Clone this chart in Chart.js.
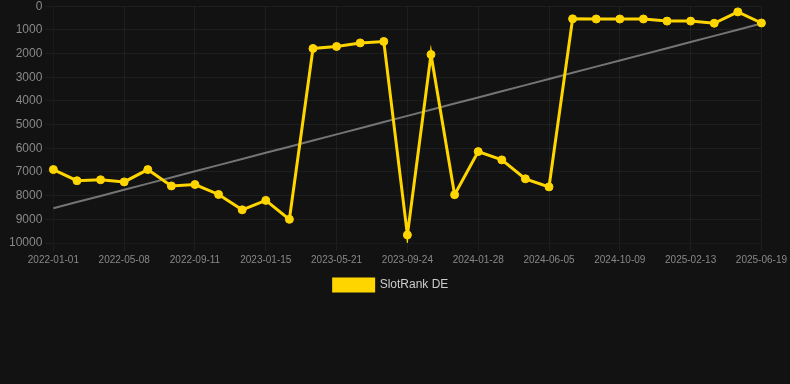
<!DOCTYPE html>
<html lang="en">
<head>
    <meta charset="UTF-8">
    <title>SlotRank DE</title>
    <style>
        body {
            margin: 0;
            background-color: #121212;
            font-family: Arial, "Liberation Sans", sans-serif;
        }
        .chart-wrapper {
            width: 790px;
            height: 305px;
            margin-top: -4px;
        }
    </style>
</head>
<body>
    <div class="chart-wrapper">
        <canvas id="rankChart"></canvas>
    </div>

    <script src="https://cdn.jsdelivr.net/npm/chart.js"></script>
    <script>
        // Dates on the x axis
        const dates = [
            '2022-01-01', '2022-02-12', '2022-03-26', '2022-05-08', '2022-06-19', '2022-07-31',
            '2022-09-11', '2022-10-23', '2022-12-04', '2023-01-15', '2023-02-26', '2023-04-09',
            '2023-05-21', '2023-07-02', '2023-08-13', '2023-09-24', '2023-11-05', '2023-12-17',
            '2024-01-28', '2024-03-10', '2024-04-22', '2024-06-05', '2024-07-17', '2024-08-28',
            '2024-10-09', '2024-11-20', '2025-01-01', '2025-02-13', '2025-03-27', '2025-05-08',
            '2025-06-19'
        ];

        // Rank values (lower is better, axis reversed)
        const ranks = [
            6900, 7370, 7330, 7420, 6900, 7590,
            7530, 7950, 8600, 8200, 9000, 1785,
            1700, 1550, 1490, 9660, 2040, 7960,
            6140, 6490, 7290, 7630, 535, 540,
            540, 540, 630, 630, 720, 240,
            710
        ];

        // Linear trend through the rank values
        function trendOf(values) {
            const n = values.length;
            const mx = (n - 1) / 2;
            const my = values.reduce((a, b) => a + b, 0) / n;
            let sxy = 0, sxx = 0;
            values.forEach((v, i) => {
                sxy += (i - mx) * (v - my);
                sxx += (i - mx) * (i - mx);
            });
            const slope = sxy / sxx;
            return values.map((v, i) => my + slope * (i - mx));
        }
        const trend = trendOf(ranks);

        const ctx = document.getElementById('rankChart').getContext('2d');
        new Chart(ctx, {
            type: 'line',
            data: {
                labels: dates,
                datasets: [
                    {
                        label: 'SlotRank DE',
                        data: ranks,
                        borderColor: '#FFD500',
                        backgroundColor: '#FFD500',
                        borderWidth: 3,
                        pointRadius: 4,
                        pointBorderWidth: 1,
                        pointHoverRadius: 5,
                        tension: 0
                    },
                    {
                        label: 'trend',
                        data: trend,
                        borderColor: 'rgba(150, 150, 150, 0.75)',
                        borderWidth: 2,
                        pointRadius: 0,
                        fill: false
                    }
                ]
            },
            options: {
                responsive: true,
                maintainAspectRatio: false,
                animation: false,
                layout: {
                    padding: { left: 6, right: 14, top: 0, bottom: 0 }
                },
                scales: {
                    x: {
                        grid: { color: 'rgba(255, 255, 255, 0.05)' },
                        ticks: {
                            color: '#888',
                            font: { size: 10 },
                            maxRotation: 0,
                            autoSkip: true,
                            maxTicksLimit: 11
                        }
                    },
                    y: {
                        reverse: true,
                        min: 0,
                        max: 10000,
                        grid: { color: 'rgba(255, 255, 255, 0.05)' },
                        ticks: {
                            color: '#888',
                            font: { size: 12 },
                            stepSize: 1000,
                            callback: v => String(v)
                        }
                    }
                },
                plugins: {
                    legend: {
                        position: 'bottom',
                        labels: {
                            color: '#ccc',
                            font: { size: 12 },
                            filter: item => item.text !== 'trend'
                        }
                    },
                    tooltip: { enabled: false }
                }
            }
        });
    </script>
</body>
</html>
